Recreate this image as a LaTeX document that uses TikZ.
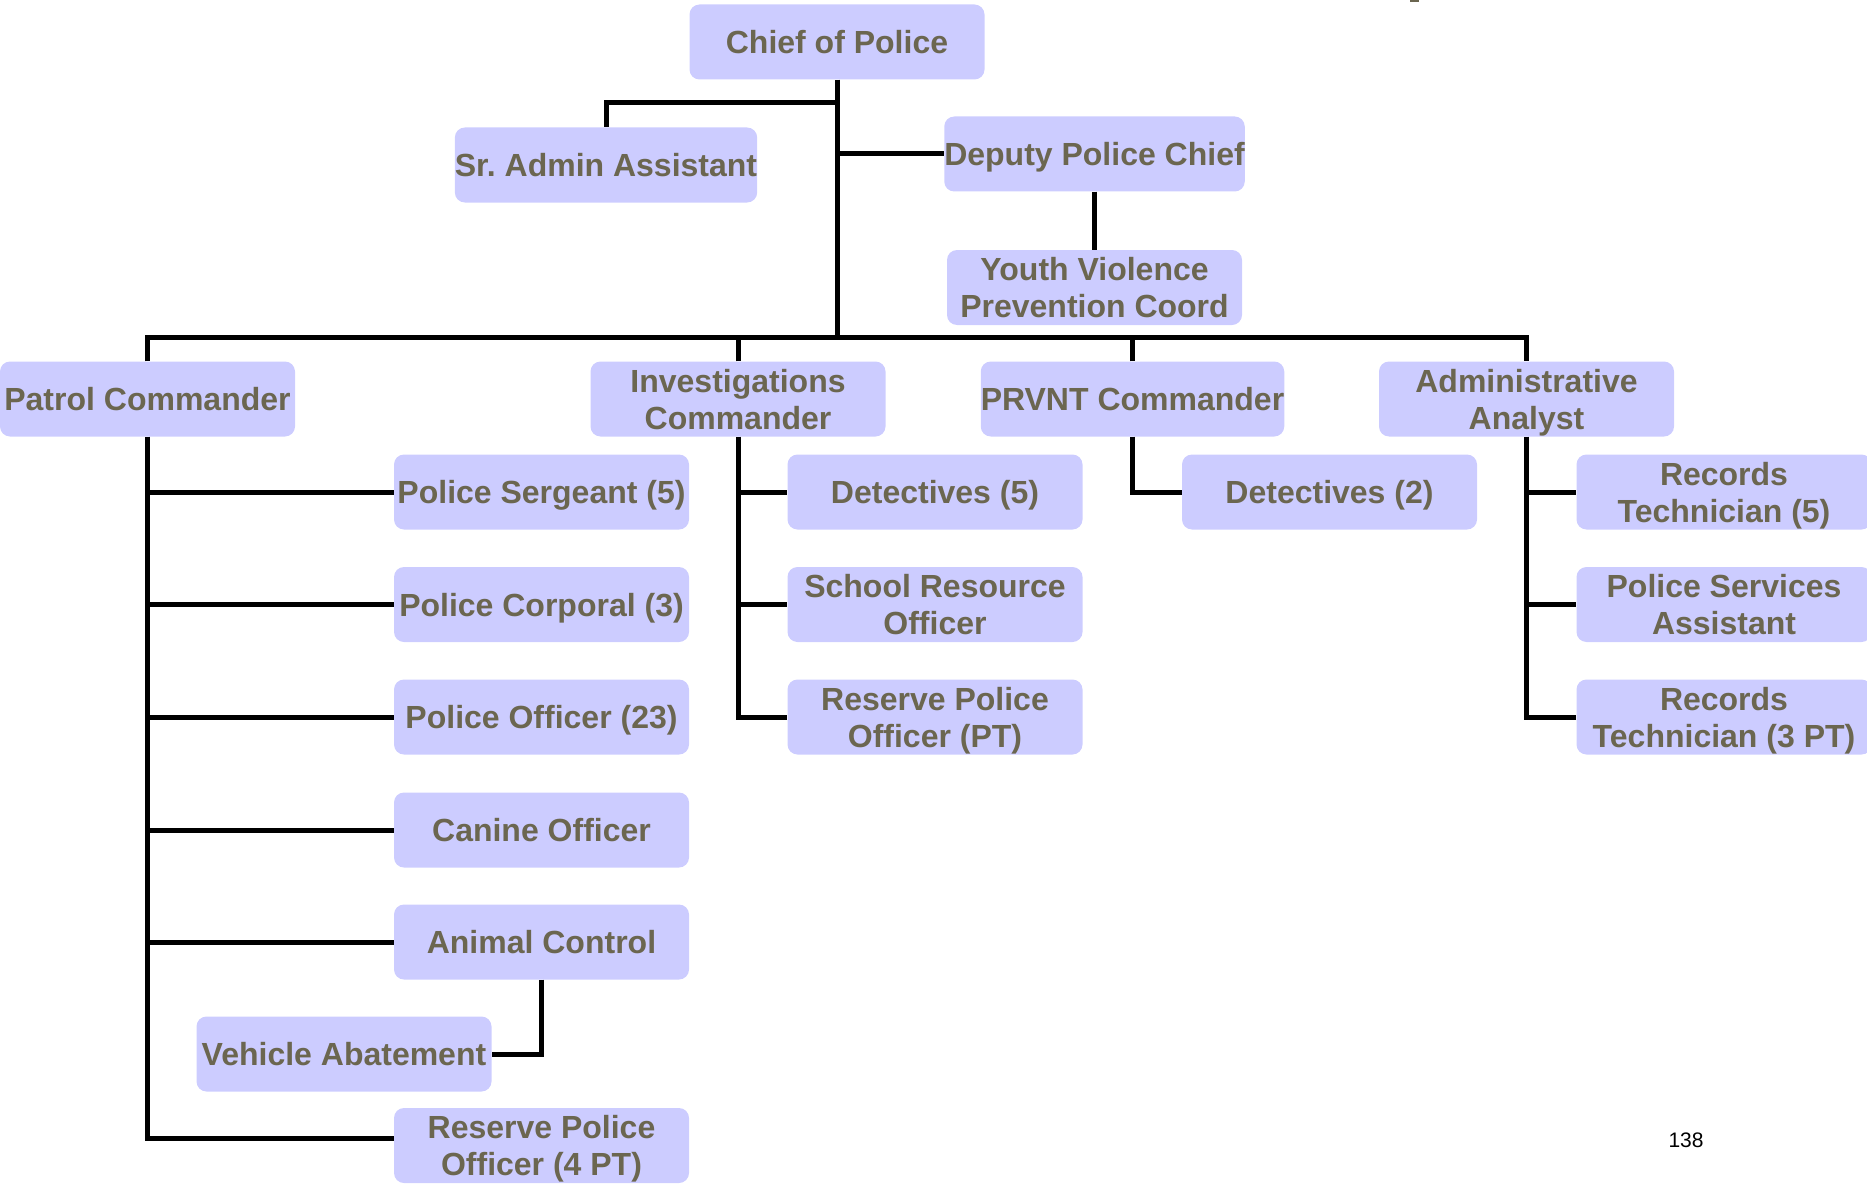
\documentclass[tikz,border=0pt]{standalone}
\usepackage{fontspec}
\setmainfont{Liberation Sans}
\definecolor{boxfill}{HTML}{CCCCFF}
\definecolor{txt}{HTML}{6B6650}
\begin{document}
\begin{tikzpicture}[x=1pt,y=-1pt,
  orgbox/.style={rectangle, rounded corners=10pt, fill=boxfill, draw=none,
    minimum width=295pt, minimum height=75pt, inner sep=0pt, text=txt,
    font=\bfseries\fontsize{32}{37}\selectfont, align=center,
    text height=23pt, text depth=0pt},
  twoline/.style={orgbox, text height=60pt},
  conn/.style={draw=black, line width=5pt, line join=miter}]
\useasboundingbox (0,0) rectangle (1867,1185);

% nodes
\node[orgbox] (chief) at (837,42) {Chief of Police};
\node[orgbox] (sra) at (606,165) {Sr.\ Admin Assistant};
\node[orgbox] (dep) at (1094.5,154) {Deputy Police Chief};
\node[twoline] (youth) at (1094.5,287.5) {Youth Violence\\Prevention Coord};

\node[orgbox] (patrol) at (147.5,399) {Patrol Commander};
\node[twoline] (inv) at (738,399) {Investigations\\Commander};
\node[orgbox] (prvnt) at (1132.5,399) {PRVNT Commander};
\node[twoline] (adm) at (1526.5,399) {Administrative\\Analyst};

\node[orgbox] (sgt) at (541.5,492) {Police Sergeant (5)};
\node[orgbox] (cpl) at (541.5,604.5) {Police Corporal (3)};
\node[orgbox] (off) at (541.5,717) {Police Officer (23)};
\node[orgbox] (k9) at (541.5,830) {Canine Officer};
\node[orgbox] (animal) at (541.5,942) {Animal Control};
\node[orgbox] (veh) at (344,1054) {Vehicle Abatement};
\node[twoline] (res4) at (541.5,1145.5) {Reserve Police\\Officer (4 PT)};

\node[orgbox] (det5) at (935,492) {Detectives (5)};
\node[twoline] (sro) at (935,604.5) {School Resource\\Officer};
\node[twoline] (respt) at (935,717) {Reserve Police\\Officer (PT)};

\node[orgbox] (det2) at (1329.5,492) {Detectives (2)};

\node[twoline] (rec5) at (1724,492) {Records\\Technician (5)};
\node[twoline] (psa) at (1724,604.5) {Police Services\\Assistant};
\node[twoline] (rec3) at (1724,717) {Records\\Technician (3 PT)};

\node[font=\fontsize{21}{25}\selectfont, inner sep=0pt] (page) at (1686,1140) {138};

\coordinate (bus) at (0,337);
\coordinate (sraJ) at (0,103);
\coordinate (r4J) at ([yshift=7.5pt]res4.west);

% connectors
\draw[conn] (chief.south) -- (chief.south |- bus);
\draw[conn] (chief.south |- sraJ) -| (sra.north);
\draw[conn] (chief.south |- dep.west) -- (dep.west);
\draw[conn] (dep.south) -- (youth.north);

\draw[conn] (patrol.north) -- (patrol.north |- bus) -- (adm.north |- bus) -- (adm.north);
\draw[conn] (inv.north) -- (inv.north |- bus);
\draw[conn] (prvnt.north) -- (prvnt.north |- bus);

\draw[conn] (patrol.south) |- (r4J);
\foreach \n in {sgt,cpl,off,k9,animal}
  \draw[conn] (patrol.south |- \n.west) -- (\n.west);
\draw[conn] (animal.south) |- (veh.east);

\draw[conn] (inv.south) |- (respt.west);
\foreach \n in {det5,sro}
  \draw[conn] (inv.south |- \n.west) -- (\n.west);

\draw[conn] (prvnt.south) |- (det2.west);

\draw[conn] (adm.south) |- (rec3.west);
\foreach \n in {rec5,psa}
  \draw[conn] (adm.south |- \n.west) -- (\n.west);

% clipped remnant at top edge
\fill[txt] (1410,0) rectangle (1419,2.5);
\end{tikzpicture}
\end{document}
